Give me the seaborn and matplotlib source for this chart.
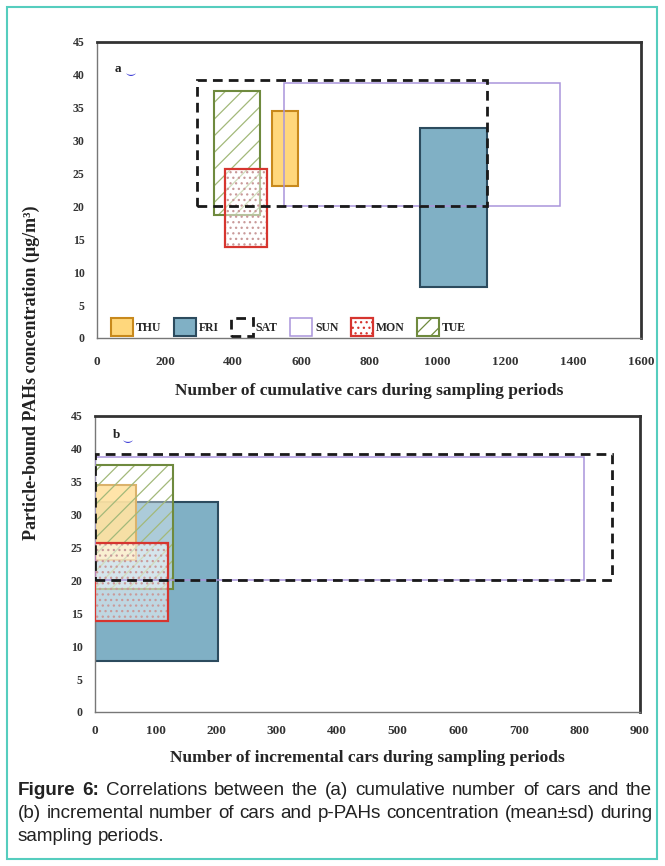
import numpy as np
import pandas as pd
import matplotlib
matplotlib.use("Agg")
import matplotlib.pyplot as plt
import matplotlib.colors as mcolors
from matplotlib.patches import Patch, Rectangle
import seaborn as sns

# Days of the sampling campaign and p-PAHs concentration (mean-sd .. mean+sd)
days = ["THU", "FRI", "SAT", "SUN", "MON", "TUE"]
conc_low = [23.1, 7.7, 20.1, 20.1, 13.8, 18.7]
conc_high = [34.5, 31.9, 39.2, 38.7, 25.7, 37.5]

# (a) cumulative cars at start / end of each sampling period
cum_start = [515, 950, 295, 550, 375, 345]
cum_end = [592, 1148, 1148, 1362, 500, 480]

# (b) incremental cars during each sampling period
inc_cars = [68, 203, 853, 808, 121, 128]

y_ticks = [0, 5, 10, 15, 20, 25, 30, 35, 40, 45]
x_ticks_a = [0, 200, 400, 600, 800, 1000, 1200, 1400, 1600]
x_ticks_b = [0, 100, 200, 300, 400, 500, 600, 700, 800, 900]

df = pd.DataFrame({"day": days, "low": conc_low, "high": conc_high,
                   "start": cum_start, "end": cum_end, "inc": inc_cars})

# box styles (fill / hatch layer, then outline layer)
fills = {
    "THU": dict(facecolor=mcolors.to_rgba("#FFD36E", 0.9)),
    "FRI": dict(facecolor="#80B0C5"),
    "SAT": dict(facecolor="none"),
    "SUN": dict(facecolor="none"),
    "MON": dict(facecolor=(1, 1, 1, 0.5), hatch="...", edgecolor="#C99A9A"),
    "TUE": dict(facecolor=(1, 1, 1, 0.35), hatch="//", edgecolor="#A3B97A"),
}
outlines = {
    "THU": dict(edgecolor="#C8891C", linewidth=1.5),
    "FRI": dict(edgecolor="#2C4B5E", linewidth=1.5),
    "SAT": dict(edgecolor="#1a1a1a", linewidth=2.0, linestyle=(0, (3.5, 2.2))),
    "SUN": dict(edgecolor="#A995DB", linewidth=1.1),
    "MON": dict(edgecolor="#D6352F", linewidth=1.6),
    "TUE": dict(edgecolor="#6F8A3E", linewidth=1.5),
}
draw_order = ["FRI", "THU", "TUE", "MON", "SUN", "SAT"]

sns.set_style("white")
plt.rcParams["font.family"] = ["Liberation Serif", "DejaVu Serif"]
plt.rcParams["font.weight"] = "bold"
plt.rcParams["axes.labelweight"] = "bold"
plt.rcParams["hatch.linewidth"] = 0.9

W, H = 665, 866
fig = plt.figure(figsize=(W / 100, H / 100), dpi=100)
ax_a = fig.add_axes([97 / W, 1 - 338 / H, 544 / W, 296 / H])
ax_b = fig.add_axes([95 / W, 1 - 712 / H, 545 / W, 296 / H])


def draw_box(ax, d, left, width, low, high, z):
    ax.bar(left, high - low, width=width, bottom=low, align="edge",
           linewidth=0, zorder=z, **fills[d])
    ax.bar(left, high - low, width=width, bottom=low, align="edge",
           facecolor="none", zorder=z + 0.5, **outlines[d])


def style_axes(ax, xticks, xpad):
    ax.set_ylim(0, 45)
    ax.set_xlim(xticks[0], xticks[-1])
    ax.set_xticks(xticks)
    ax.set_yticks(y_ticks)
    ax.tick_params(direction="in", length=3, width=0.8, colors="#777",
                   labelcolor="#333", pad=9)
    ax.tick_params(axis="x", pad=xpad, labelsize=9.5)
    ax.tick_params(axis="y", labelsize=8.5)
    for side in ["left", "bottom"]:
        ax.spines[side].set_color("#777")
        ax.spines[side].set_linewidth(1.0)
    for side in ["top", "right"]:
        ax.spines[side].set_color("#333")
        ax.spines[side].set_linewidth(2.0)


# (a) cumulative cars
for z, d in enumerate(draw_order):
    r = df[df.day == d].iloc[0]
    draw_box(ax_a, d, r.start, r.end - r.start, r.low, r.high, 2 + z)
style_axes(ax_a, x_ticks_a, 13)
ax_a.set_xlabel("Number of cumulative cars during sampling periods",
                fontsize=12.5, labelpad=11)
ax_a.text(0.033, 0.90, "a", transform=ax_a.transAxes, fontsize=9.5, color="#222")
ax_a.text(0.047, 0.885, r"$\smile$", transform=ax_a.transAxes, fontsize=7, color="#3b3bd6")

handles = [Patch(label=d, **{**fills[d], **outlines[d]}) for d in days]
ax_a.legend(handles=handles, loc="lower left", bbox_to_anchor=(0.022, 0.0),
            ncol=6, frameon=False, fontsize=8.5, handlelength=1.85, handleheight=1.9,
            handletextpad=0.25, columnspacing=1.05, borderpad=0.2, borderaxespad=0)

# (b) incremental cars
for z, d in enumerate(draw_order):
    r = df[df.day == d].iloc[0]
    draw_box(ax_b, d, 0, r.inc, r.low, r.high, 2 + z)
style_axes(ax_b, x_ticks_b, 9.5)
ax_b.set_xlabel("Number of incremental cars during sampling periods",
                fontsize=12.5, labelpad=9)
ax_b.text(0.033, 0.925, "b", transform=ax_b.transAxes, fontsize=9.5, color="#222")
ax_b.text(0.045, 0.91, r"$\smile$", transform=ax_b.transAxes, fontsize=7, color="#3b3bd6")

fig.text(31 / W, 1 - 373 / H, "Particle-bound PAHs concentration (\u03bcg/m\u00b3)",
         rotation=90, ha="center", va="center", fontsize=13, color="#222")

# teal frame
fig.add_artist(Rectangle((7 / W, 7 / H), 650 / W, 852 / H, transform=fig.transFigure,
                         fill=False, edgecolor="#55CDBE", linewidth=1.5))

# caption, justified like the journal layout
caption = ["Figure 6: Correlations between the (a) cumulative number of cars and the",
           "(b) incremental number of cars and p-PAHs concentration (mean\u00b1sd) during",
           "sampling periods."]
cap_size = 13.6
renderer = fig.canvas.get_renderer()
x0, x1 = 18 / W, 652 / W
for i, line in enumerate(caption):
    y = 1 - (795 + 23 * i) / H
    words = line.split()
    arts = []
    for j, w in enumerate(words):
        bold = (i == 0 and j < 2)
        arts.append(fig.text(0, y, w, fontsize=cap_size, va="baseline", color="#222",
                             family=["Liberation Sans", "DejaVu Sans"],
                             weight="bold" if bold else "normal"))
    widths = [a.get_window_extent(renderer).width / W for a in arts]
    if i < len(caption) - 1:
        gap = (x1 - x0 - sum(widths)) / (len(words) - 1)
    else:
        gap = 0.278 * cap_size * 100 / 72 / W
    x = x0
    for a, w in zip(arts, widths):
        a.set_x(x)
        x += w + gap

fig.savefig("out.png", dpi=100, facecolor="white")
